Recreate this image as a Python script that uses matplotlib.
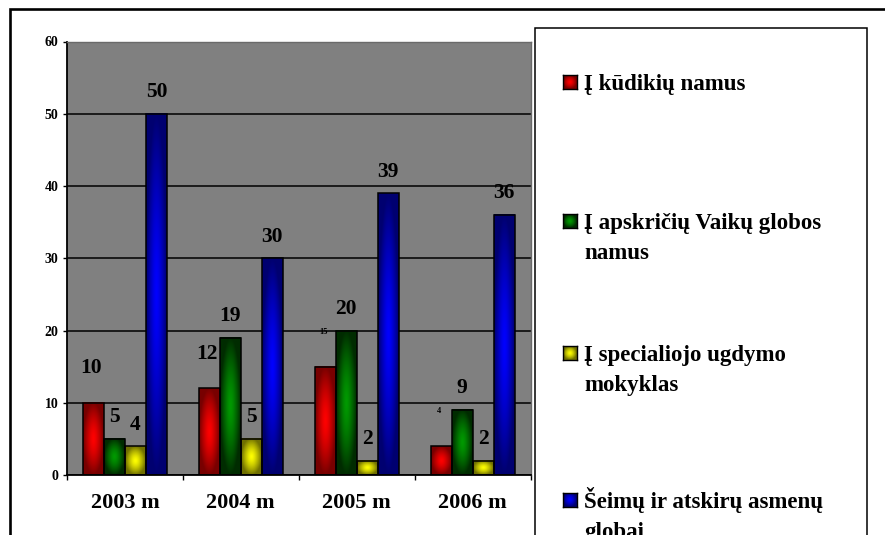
import numpy as np
import matplotlib.pyplot as plt
from matplotlib.colors import LinearSegmentedColormap
from matplotlib.patches import Rectangle

plt.rcParams['font.family'] = ['Liberation Serif', 'DejaVu Serif']
plt.rcParams['font.weight'] = 'bold'

# data
years = ["2003 m", "2004 m", "2005 m", "2006 m"]
series = ["Į kūdikių namus",
          "Į apskričių Vaikų globos\nnamus",
          "Į specialiojo ugdymo\nmokyklas",
          "Šeimų ir atskirų asmenų\nglobai"]
kudikiu = [10, 12, 15, 4]
apskriciu = [5, 19, 20, 9]
specialiojo = [4, 5, 2, 2]
seimu = [50, 30, 39, 36]
values = [kudikiu, apskriciu, specialiojo, seimu]

# style
light = ["#ff0000", "#009a00", "#ffff00", "#0000ff"]
dark = ["#780000", "#002c00", "#707000", "#000070"]
lbl_size = [[15.5, 15.5, 6, 6], [15.5] * 4, [15.5] * 4, [15.5] * 4]
lbl_off = [(-1.5, 25), (0, 15.5), (0, 15.5), (0, 15.5)]

W, H = 885, 535
def fx(px): return px / W
def fy(py): return 1 - py / H

fig = plt.figure(figsize=(W / 100, H / 100), dpi=100)
ax = fig.add_axes([fx(67), fy(475), fx(530.5) - fx(67), (475 - 41.5) / H])
ax.set_facecolor("#808080")


def grad(nx=24, ny=80):
  u = np.linspace(-1, 1, nx)
  v = np.linspace(-1, 1, ny)
  U, V = np.meshgrid(u, v)
  return np.clip(np.sqrt(U**2 + V**2), 0, 1) ** 1.4


x = np.arange(len(years))
w = 0.181
for j, vals in enumerate(values):
  cmap = LinearSegmentedColormap.from_list("c%d" % j, [light[j], dark[j]])
  xs = x + (j - 1.5) * w
  for i, v in enumerate(vals):
    ax.imshow(grad(), cmap=cmap, vmin=0, vmax=1, origin="lower",
              extent=[xs[i] - w / 2, xs[i] + w / 2, 0, v], aspect="auto",
              interpolation="bilinear", zorder=2)
    ax.annotate(str(v), xy=(xs[i], v), xytext=lbl_off[j],
                textcoords="offset points", ha="center", va="center",
                fontsize=lbl_size[j][i], fontweight="bold", zorder=5)
  ax.bar(xs, vals, width=w, facecolor="none", edgecolor="black",
         linewidth=1.1, zorder=3)

ax.set_xlim(-0.5, 3.5)
ax.set_ylim(0, 60)
ax.set_yticks(range(0, 61, 10))
ax.set_xticks(x)
ax.set_xticklabels(years, fontsize=16, fontweight="bold")
ax.set_xticks(np.arange(-0.5, 4, 1), minor=True)
ax.tick_params(axis="x", which="major", length=0, pad=13)
ax.tick_params(axis="x", which="minor", length=3.5, width=1, direction="out")
ax.tick_params(axis="y", length=3, width=1, direction="out", pad=3, labelsize=10)
for t in ax.get_yticklabels():
  t.set_fontweight("bold")

ax.set_axisbelow(True)
ax.yaxis.grid(True, color="black", linewidth=1.1)
ax.get_ygridlines()[-1].set_visible(False)
for s in ["left", "bottom"]:
  ax.spines[s].set_linewidth(1.3)
  ax.spines[s].set_color("black")
for s in ["top", "right"]:
  ax.spines[s].set_linewidth(1.0)
  ax.spines[s].set_color("#6a6a6a")

# outer frame and legend box (run past the bottom edge)
fig.add_artist(Rectangle((fx(10), fy(700)), 2, fy(9) - fy(700),
                         transform=fig.transFigure, fill=False,
                         edgecolor="black", linewidth=1.9))
fig.add_artist(Rectangle((fx(535), fy(700)), fx(867) - fx(535), fy(28) - fy(700),
                         transform=fig.transFigure, fill=False,
                         edgecolor="black", linewidth=1.1))

# legend
baselines = [90, 229, 361, 508]
for j, name in enumerate(series):
  b = baselines[j]
  m = fig.add_axes([fx(563), fy(b - 1), 14 / W, 14 / H])
  cmap = LinearSegmentedColormap.from_list("m%d" % j, [light[j], dark[j]])
  m.imshow(grad(20, 20), cmap=cmap, vmin=0, vmax=1, aspect="auto",
           interpolation="bilinear")
  m.set_xticks([])
  m.set_yticks([])
  for s in m.spines.values():
    s.set_linewidth(1.0)
  for k, line in enumerate(name.split("\n")):
    fig.text(fx(584), fy(b + 30 * k), line, ha="left", va="baseline",
             fontsize=16.5, fontweight="bold")

fig.savefig("out.png", dpi=100)
